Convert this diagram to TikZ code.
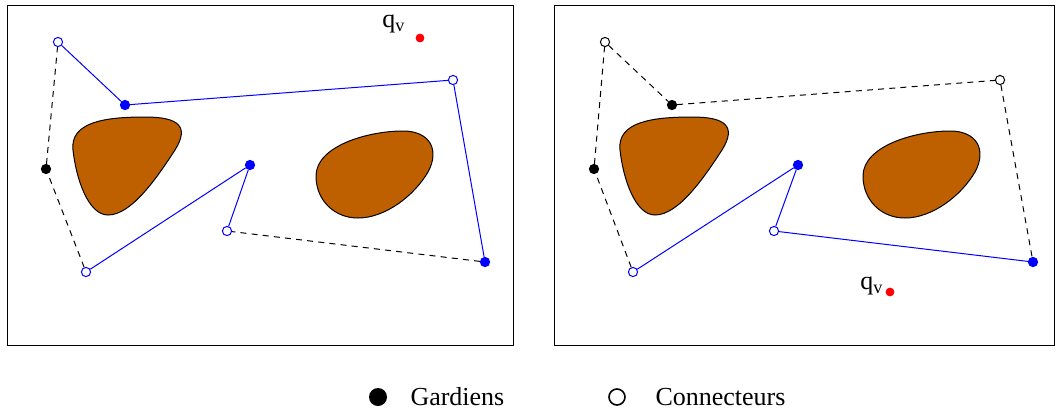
\documentclass[tikz,border=0pt]{standalone}
\usepackage{fontspec}
\setmainfont{Liberation Serif}
\usetikzlibrary{positioning}
\definecolor{obsbrown}{RGB}{191,96,0}
\definecolor{gblue}{RGB}{0,0,255}
\definecolor{qred}{RGB}{255,0,0}

\begin{document}
\begin{tikzpicture}[x=0.5pt, y=-0.5pt, line width=0.5pt, node distance=6pt,
      garde/.style={circle, fill=#1, draw=#1, inner sep=0pt, minimum size=4.6pt},
      connect/.style={circle, fill=white, draw=#1, inner sep=0pt, minimum size=4.6pt},
      vis/.style={gblue},
      hidden/.style={black, dashed, dash pattern=on 3pt off 2.6pt},
      obstacle/.style={draw=black, fill=obsbrown, line width=0.5pt},
      qpt/.style={circle, fill=qred, inner sep=0pt, minimum size=4.4pt},
      lbl/.style={font=\fontsize{13}{15}\selectfont, inner sep=0pt}]
    \useasboundingbox (0,0) rectangle (1056,414);
    % frames
    \draw (7,5) rectangle (513,345);
    \draw (554,5) rectangle (1054,345);

    % obstacles, left then right
    \foreach \dx in {0,547} {
      \begin{scope}[xshift=\dx*0.5pt]
        \draw[obstacle] (73,150) .. controls (70,122) and (105,117) .. (145,117)
          .. controls (178,117) and (190,126) .. (175,150)
          .. controls (158,176) and (132,215) .. (108,215)
          .. controls (88,215) and (76,178) .. (73,150) -- cycle;
        \draw[obstacle] (316,176) .. controls (316,146) and (368,131) .. (403,131)
          .. controls (430,131) and (440,150) .. (428,172)
          .. controls (414,196) and (385,218) .. (358,218)
          .. controls (334,218) and (316,200) .. (316,176) -- cycle;
      \end{scope}
    }

    % left: guarding tour
    \node[connect=gblue] (a1) at (58,42) {};
    \node[garde=gblue] (a2) at (125,105) {};
    \node[connect=gblue] (a3) at (453,80) {};
    \node[garde=gblue] (a4) at (485,262) {};
    \node[connect=gblue] (a5) at (227,231) {};
    \node[garde=gblue] (a6) at (250,165) {};
    \node[connect=gblue] (a7) at (86,272) {};
    \node[garde=black] (a8) at (46,169) {};
    \draw[vis] (a1) -- (a2) -- (a3) -- (a4);
    \draw[hidden] (a4) -- (a5);
    \draw[vis] (a5) -- (a6) -- (a7);
    \draw[hidden] (a7) -- (a8) -- (a1);
    \node[qpt] (qa) at (420,38) {};
    \node[lbl, anchor=east] (qalbl) at (406,24) {q\textsubscript{v}};

    % right: guarding tour
    \node[connect=black] (b1) at (605,42) {};
    \node[garde=black] (b2) at (672,105) {};
    \node[connect=black] (b3) at (1000,80) {};
    \node[garde=gblue] (b4) at (1033,262) {};
    \node[connect=gblue] (b5) at (774,231) {};
    \node[garde=gblue] (b6) at (798,165) {};
    \node[connect=gblue] (b7) at (633,272) {};
    \node[garde=black] (b8) at (594,169) {};
    \draw[hidden] (b1) -- (b2) -- (b3) -- (b4);
    \draw[vis] (b4) -- (b5) -- (b6) -- (b7);
    \draw[hidden] (b7) -- (b8) -- (b1);
    \node[qpt] (qb) at (890,292) {};
    \node[lbl, anchor=east] (qblbl) at (884,286) {q\textsubscript{v}};

    % legend
    \node[circle, fill=black, inner sep=0pt, minimum size=9pt] (lg) at (378,397) {};
    \node[lbl, anchor=west] (lgtxt) at (410,397) {Gardiens};
    \node[circle, draw=black, line width=0.8pt, inner sep=0pt, minimum size=8pt] (lc) at (617,397) {};
    \node[lbl, anchor=west] (lctxt) at (655,397) {Connecteurs};
  \end{tikzpicture}
\end{document}
